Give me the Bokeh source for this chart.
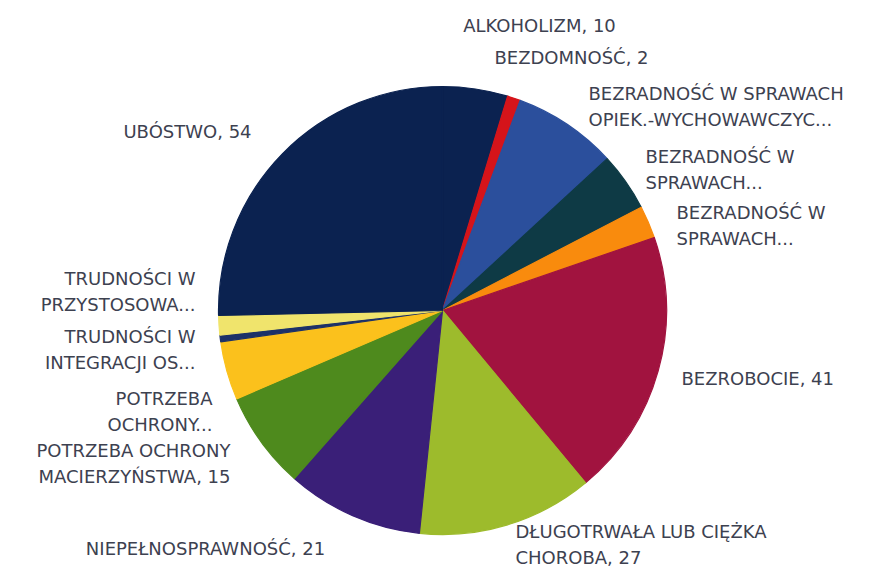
import math
from bokeh.plotting import figure
from bokeh.models import Range1d, ColumnDataSource
from bokeh.core.properties import value
from bokeh.embed import file_html
from bokeh.resources import INLINE

# ---- data ----
categories = [
    "ALKOHOLIZM", "BEZDOMNOŚĆ", "BEZRADNOŚĆ W SPRAWACH OPIEK.-WYCHOWAWCZYCH",
    "BEZRADNOŚĆ W SPRAWACH (1)", "BEZRADNOŚĆ W SPRAWACH (2)", "BEZROBOCIE",
    "DŁUGOTRWAŁA LUB CIĘŻKA CHOROBA", "NIEPEŁNOSPRAWNOŚĆ",
    "POTRZEBA OCHRONY MACIERZYŃSTWA", "POTRZEBA OCHRONY", "TRUDNOŚCI W INTEGRACJI OS",
    "TRUDNOŚCI W PRZYSTOSOWANIU", "UBÓSTWO",
]
values = [10, 2, 16, 9, 5, 41, 27, 21, 15, 9, 1, 3, 54]
label_texts = [
    "ALKOHOLIZM, 10", "BEZDOMNOŚĆ, 2", "BEZRADNOŚĆ W SPRAWACH\nOPIEK.-WYCHOWAWCZYC...",
    "BEZRADNOŚĆ W\nSPRAWACH...", "BEZRADNOŚĆ W\nSPRAWACH...", "BEZROBOCIE, 41",
    "DŁUGOTRWAŁA LUB CIĘŻKA\nCHOROBA, 27", "NIEPEŁNOSPRAWNOŚĆ, 21",
    "POTRZEBA OCHRONY\nMACIERZYŃSTWA, 15", "POTRZEBA\nOCHRONY...",
    "TRUDNOŚCI W\nINTEGRACJI OS...", "TRUDNOŚCI W\nPRZYSTOSOWA...", "UBÓSTWO, 54",
]

# ---- styles ----
colors = ["#0b2250", "#d5141a", "#2b4f9c", "#0e3a45", "#f98b0d", "#a1133f",
          "#9dbb2c", "#3a1f78", "#4e8a1d", "#fbc11c", "#1c3168", "#f0e46c", "#0b2250"]
# label layout in picture pixels: (x, y, align)
label_layout = [
    (539, 25, "center"), (571, 57, "center"), (588, 106, "left"),
    (645, 169, "left"), (676, 225, "left"), (681, 378, "left"),
    (515, 544, "left"), (205, 548, "center"), (230, 463, "right"),
    (212, 411, "right"), (195, 349, "right"), (195, 291, "right"),
    (187, 131, "center"),
]

W, H = 870, 571
def Y(py):
    return H - py

total = sum(values)
starts, ends = [], []
acc = 0
for v in values:
    starts.append(math.pi / 2 - 2 * math.pi * acc / total)
    acc += v
    ends.append(math.pi / 2 - 2 * math.pi * acc / total)

p = figure(width=W, height=H, output_backend="svg", toolbar_location=None,
           x_range=Range1d(0, W), y_range=Range1d(0, H),
           min_border=0, outline_line_color=None)
p.axis.visible = False
p.grid.visible = False
p.background_fill_color = "white"

src = ColumnDataSource(dict(cat=categories, val=values, start=starts, end=ends, color=colors))
p.wedge(x=442, y=Y(310), radius=224, start_angle="start", end_angle="end",
        direction="clock", fill_color="color", line_color="color", line_width=1.2,
        source=src)

lsrc = ColumnDataSource(dict(
    x=[l[0] for l in label_layout], y=[Y(l[1]) for l in label_layout],
    text=label_texts, align=[l[2] for l in label_layout]))
p.text(x="x", y="y", text="text", source=lsrc, text_align="align",
       text_baseline="middle", text_font=value("DejaVu Sans"),
       text_font_size="18px", text_color="#3d4150", text_line_height=1.2)

open("out.html", "w").write(file_html(p, INLINE))
